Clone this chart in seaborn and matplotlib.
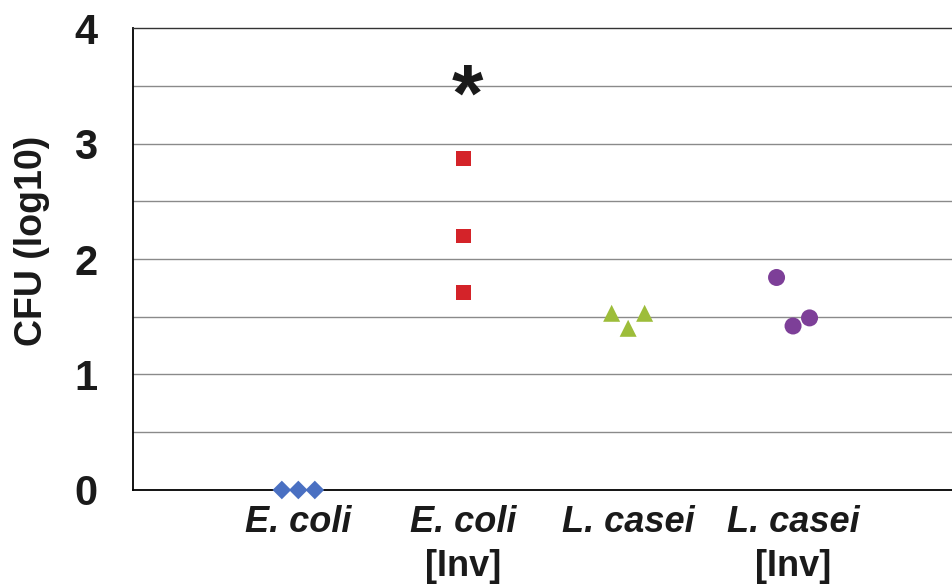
import numpy as np
import pandas as pd
import matplotlib
matplotlib.use("Agg")
import matplotlib.pyplot as plt
import matplotlib.transforms as mtransforms
import seaborn as sns

# values (log10 CFU)
groups = ["E. coli", "E. coli [Inv]", "L. casei", "L. casei [Inv]"]
ecoli = [0.0, 0.0, 0.0]
ecoli_inv = [2.87, 2.20, 1.71]
lcasei = [1.53, 1.40, 1.53]
lcasei_inv = [1.84, 1.42, 1.49]
label_line1 = ["E. coli", "E. coli", "L. casei", "L. casei"]
label_line2 = ["", "[Inv]", "", "[Inv]"]
star_group = "E. coli [Inv]"
star_y = 3.55

# styling per group
colors = {"E. coli": "#4a70c2", "E. coli [Inv]": "#d42329",
          "L. casei": "#9dbd3a", "L. casei [Inv]": "#7d3f98"}
markers = {"E. coli": "D", "E. coli [Inv]": "s",
           "L. casei": "^", "L. casei [Inv]": "o"}
sizes = {"E. coli": 90, "E. coli [Inv]": 110,
         "L. casei": 150, "L. casei [Inv]": 150}
spread = {"E. coli": 0.1, "E. coli [Inv]": 0.0,
          "L. casei": 0.1, "L. casei [Inv]": 0.1}

rows = []
for gi, (g, vals) in enumerate(zip(groups, [ecoli, ecoli_inv, lcasei, lcasei_inv])):
    for k, v in enumerate(vals):
        rows.append({"group": g, "x": gi + 1 + spread[g] * (k - 1), "cfu": v})
df = pd.DataFrame(rows)

sns.set_style("white")
plt.rcParams["font.family"] = ["Liberation Sans", "DejaVu Sans"]

fig = plt.figure(figsize=(9.53, 5.84), dpi=100)
ax = fig.add_axes([0.14, 0.161, 0.86, 0.791])

# gridlines every 0.5
for yv in np.arange(0.5, 4.0, 0.5):
    ax.axhline(yv, color="#8a8a8a", lw=1.0, zorder=0)

sns.scatterplot(data=df, x="x", y="cfu", hue="group", style="group",
                size="group", palette=colors, markers=markers, sizes=sizes,
                edgecolor="none", linewidth=0, legend=False, ax=ax, zorder=3,
                clip_on=False)

# significance star
ax.annotate("*", xy=(groups.index(star_group) + 1, star_y), xytext=(3, -14),
            textcoords="offset points", fontsize=58, fontweight="bold",
            ha="center", va="center", color="#1a1a1a")

ax.set_xlim(0, 4.97)
ax.set_ylim(0, 4)
ax.set_yticks(np.arange(0, 4.01, 1))
ax.set_yticklabels([str(int(t)) for t in np.arange(0, 4.01, 1)],
                   fontsize=30, fontweight="bold", color="#1a1a1a")
ax.tick_params(axis="y", length=0, pad=26)
ax.set_xticks([])
ax.set_xlabel("")
ax.set_ylabel("CFU (log10)", fontsize=27, fontweight="bold", color="#1a1a1a")
ax.yaxis.set_label_coords(-0.102, 0.54)

trans = mtransforms.blended_transform_factory(ax.transData, ax.transAxes)
for gi, (l1, l2) in enumerate(zip(label_line1, label_line2)):
    ax.text(gi + 1, -0.07, l1, transform=trans, ha="center", va="center",
            fontsize=26, fontweight="bold", fontstyle="italic", color="#1a1a1a")
    if l2:
        ax.text(gi + 1, -0.165, l2, transform=trans, ha="center", va="center",
                fontsize=26, fontweight="bold", color="#1a1a1a")

for side in ["left", "bottom"]:
    ax.spines[side].set_color("black")
    ax.spines[side].set_linewidth(1.3)
ax.spines["top"].set_color("#333333")
ax.spines["top"].set_linewidth(1.0)
ax.spines["right"].set_visible(False)

fig.savefig("out.png", dpi=100)
